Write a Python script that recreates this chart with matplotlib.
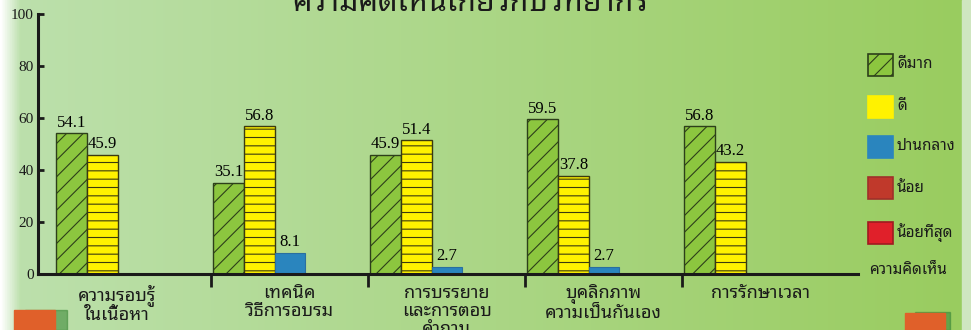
import numpy as np
import matplotlib.pyplot as plt
from matplotlib.patches import Rectangle

topics = ["ความรอบรู้\nในเนื้อหา", "เทคนิค\nวิธีการอบรม", "การบรรยาย\nและการตอบ\nคำถาม",
          "บุคลิกภาพ\nความเป็นกันเอง", "การรักษาเวลา"]
levels = ["ดีมาก", "ดี", "ปานกลาง", "น้อย", "น้อยที่สุด"]
very_good = [54.1, 35.1, 45.9, 59.5, 56.8]
good = [45.9, 56.8, 51.4, 37.8, 43.2]
fair = [0, 8.1, 2.7, 2.7, 0]
low = [0, 0, 0, 0, 0]
lowest = [0, 0, 0, 0, 0]

thai = ['Noto Sans Thai Looped', 'DejaVu Sans']
num = ['Liberation Serif', 'DejaVu Serif']
plt.rcParams['font.family'] = thai
plt.rcParams['hatch.linewidth'] = 0.8

fig = plt.figure(figsize=(9.71, 3.30), dpi=100)

# background gradient
bg = fig.add_axes([0, 0, 1, 1], zorder=-10)
c_left = np.array([0.74, 0.88, 0.68])
c_right = np.array([0.60, 0.80, 0.37])
t = np.linspace(0, 1, 400)[None, :, None]
grad = c_left + (c_right - c_left) * t
grad = np.repeat(grad, 2, axis=0)
edge = np.clip(1 - np.linspace(0, 1, 400) * 50, 0, 1)[None, :, None]
grad = grad * (1 - edge) + edge * 1.0
bg.imshow(grad, aspect='auto', extent=[0, 1, 0, 1])
bg.add_patch(Rectangle((962/971, 0), 9/971, 1, color='#cfe6c0'))
bg.add_patch(Rectangle((25/971, 0), 42/971, 20/330, color='#3f8a3a', alpha=0.6))
bg.add_patch(Rectangle((14/971, 0), 41/971, 20/330, color='#e0602a'))
bg.add_patch(Rectangle((915/971, 0), 35/971, 18/330, color='#3f8a3a', alpha=0.6))
bg.add_patch(Rectangle((905/971, 0), 40/971, 17/330, color='#e0602a'))
bg.set_xlim(0, 1)
bg.set_ylim(0, 1)
bg.axis('off')

fig.text(470/971, 1 - 11/330, "ความคิดเห็นเกี่ยวกับวิทยากร", ha='center', va='baseline',
         fontsize=22, fontweight='bold', color='#1a1a1a')

ax = fig.add_axes([38/971, 1 - 274/330, (858 - 38)/971, (274 - 14)/330])
ax.set_facecolor('none')

x = np.arange(len(topics))
w = 0.195
off = 0.015
ax.bar(x + off, very_good, w, align='edge', color='#8cc63f', edgecolor='#2d3f1a', hatch='//', lw=1)
ax.bar(x + off + w, good, w, align='edge', color='#fff200', edgecolor='#3a3a10', hatch='--', lw=1)
ax.bar(x + off + 2*w, fair, w, align='edge', color='#2a85be', edgecolor='#2a6fa0', lw=0.8)
for i in range(len(topics)):
    ax.text(x[i] + off + w/2, very_good[i] + 1, f"{very_good[i]:.1f}", ha='center', va='bottom',
            family=num, fontsize=12)
    ax.text(x[i] + off + 1.5*w, good[i] + 1, f"{good[i]:.1f}", ha='center', va='bottom',
            family=num, fontsize=12)
    if fair[i] > 0:
        ax.text(x[i] + off + 2.5*w, fair[i] + 1, f"{fair[i]:.1f}", ha='center', va='bottom',
                family=num, fontsize=12)

ax.set_xlim(-0.102, 5.12)
ax.set_ylim(0, 100)
ax.set_yticks([0, 20, 40, 60, 80, 100])
ax.set_yticklabels([0, 20, 40, 60, 80, 100], family=num, fontsize=11)
for s in ['top', 'right']:
    ax.spines[s].set_visible(False)
ax.spines['left'].set_linewidth(2.2)
ax.spines['bottom'].set_linewidth(2.2)
ax.spines['left'].set_color('#1a1a1a')
ax.spines['bottom'].set_color('#1a1a1a')
ax.tick_params(axis='y', direction='in', length=4, width=2, pad=3, colors='#1a1a1a')
ax.set_xticks(x[1:])
ax.set_xticklabels([])
ax.tick_params(axis='x', direction='out', length=9, width=2, colors='#1a1a1a')
label_x = x + 0.5
label_x[0] = 0.4
for i, tx in enumerate(topics):
    ax.text(label_x[i], -4, tx, ha='center', va='top', fontsize=13, linespacing=1.0,
            color='#1a1a1a')

# legend
colors = ['#8cc63f', '#fff200', '#2a85be', '#c0392b', '#e0202a']
hatches = ['//', '---', None, None, None]
edges = ['#2d3f1a', '#fff200', '#2a85be', '#a0302a', '#a01a20']
ys = [65, 107, 147, 188, 233]
for c, h, e, yy, lab in zip(colors, hatches, edges, ys, levels):
    fig.patches.append(Rectangle((868/971, 1 - (yy + 11)/330), 25/971, 22/330, facecolor=c,
                                 edgecolor=e, hatch=h, lw=1.2, transform=fig.transFigure, figure=fig))
    fig.text(897/971, 1 - yy/330, lab, ha='left', va='center', fontsize=11, fontweight='bold',
             color='#1a1a1a')
fig.text(869/971, 1 - 271/330, "ความคิดเห็น", ha='left', va='center', fontsize=11,
         fontweight='bold', color='#1a1a1a')

fig.savefig('out.png', dpi=100)
